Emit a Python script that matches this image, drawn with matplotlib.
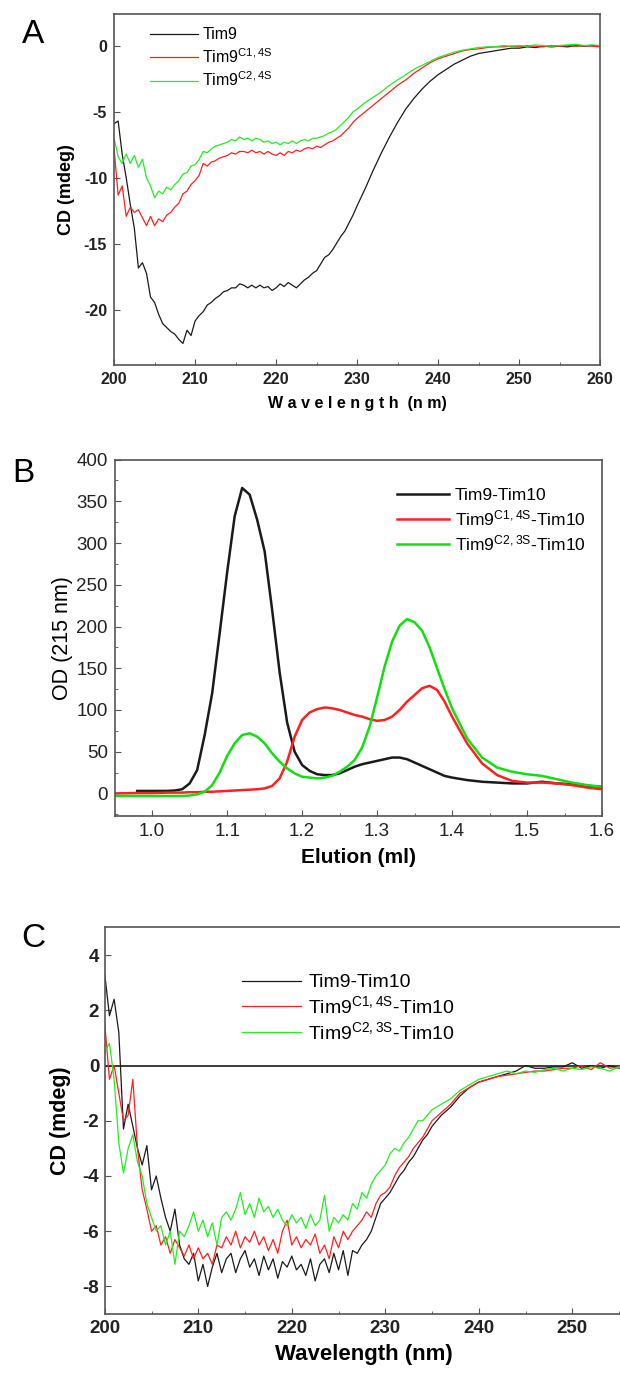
import matplotlib
matplotlib.use("Agg")
import matplotlib.pyplot as plt
import numpy as np
from matplotlib.ticker import AutoMinorLocator, MultipleLocator

plt.rcParams['font.family'] = ['Liberation Sans', 'DejaVu Sans']
plt.rcParams['mathtext.default'] = 'regular'
plt.rcParams['axes.unicode_minus'] = False

# ---------- panel A : CD spectra of Tim9 variants ----------
wl_a = np.concatenate([np.arange(200, 230.01, 0.5), np.arange(231, 260.01, 1.0)])
tim9_a = [-5.9, -5.7, -8.2, -10.0, -12.0, -13.8, -16.8, -16.4, -17.2, -19.0, -19.4, -20.3, -21.0, -21.3,
          -21.6, -21.8, -22.2, -22.5, -21.5, -21.9, -20.8, -20.4, -20.1, -19.6, -19.4, -19.1, -18.9, -18.6,
          -18.5, -18.3, -18.3, -18.0, -18.1, -18.3, -18.1, -18.3, -18.1, -18.3, -18.2, -18.5, -18.3, -18.0,
          -18.2, -17.9, -18.1, -18.3, -18.0, -17.7, -17.5, -17.2, -17.0, -16.5, -16.0, -15.8, -15.4, -14.9,
          -14.4, -14.0, -13.4, -12.8, -12.1,
          -10.8, -9.4, -8.1, -6.9, -5.8, -4.8, -4.0, -3.3, -2.7, -2.2, -1.8, -1.4, -1.1, -0.8, -0.6, -0.5,
          -0.4, -0.3, -0.2, -0.2, -0.1, -0.15, -0.05, -0.1, -0.05, -0.1, 0.0, -0.05, 0.0, -0.05]
c14_a = [-7.8, -11.3, -10.6, -12.9, -12.2, -12.6, -12.4, -13.0, -13.6, -12.9, -13.6, -13.1, -13.3, -12.8,
         -12.6, -12.2, -11.9, -11.2, -11.0, -10.5, -10.2, -9.8, -8.9, -9.1, -8.8, -8.7, -8.5, -8.4, -8.3,
         -8.1, -8.2, -8.0, -8.0, -8.1, -7.9, -8.1, -8.0, -8.2, -8.0, -8.2, -8.3, -8.1, -8.3, -8.0, -8.1,
         -7.9, -8.0, -7.8, -7.7, -7.8, -7.6, -7.7, -7.5, -7.3, -7.2, -7.0, -6.8, -6.5, -6.2, -5.8, -5.5,
         -5.0, -4.5, -4.0, -3.5, -3.0, -2.6, -2.1, -1.7, -1.3, -1.0, -0.8, -0.6, -0.4, -0.3, -0.25, -0.15,
         -0.1, -0.1, -0.05, -0.1, 0.0, -0.05, -0.1, 0.0, -0.05, 0.0, -0.05, 0.0, -0.05, -0.1]
c24_a = [-7.0, -8.4, -8.9, -8.2, -8.9, -8.3, -9.2, -8.6, -10.0, -10.6, -11.5, -11.0, -11.2, -10.7, -10.9,
         -10.5, -10.2, -9.7, -9.6, -9.1, -9.0, -8.6, -8.0, -8.1, -7.8, -7.6, -7.5, -7.4, -7.3, -7.1, -7.2,
         -6.9, -7.1, -7.0, -7.2, -7.0, -7.1, -7.3, -7.2, -7.4, -7.3, -7.5, -7.3, -7.4, -7.2, -7.4, -7.2,
         -7.1, -7.2, -7.0, -7.0, -6.9, -6.8, -6.6, -6.5, -6.3, -6.0, -5.7, -5.4, -5.0, -4.8,
         -4.3, -3.9, -3.5, -3.0, -2.6, -2.2, -1.8, -1.5, -1.2, -0.9, -0.7, -0.5, -0.35, -0.25, -0.15, -0.1,
         -0.1, 0.0, -0.05, 0.0, -0.05, 0.05, 0.0, -0.05, 0.0, 0.05, 0.1, 0.0, 0.05, 0.0]

# ---------- panel B : size exclusion elution profiles ----------
elution = np.concatenate([[0.95, 0.98, 1.00, 1.02, 1.03, 1.04],
                          np.round(np.arange(1.05, 1.4001, 0.01), 2),
                          np.round(np.arange(1.42, 1.6001, 0.02), 2)])
wt_b = [np.nan, 3, 3, 3, 3.5, 5, 12, 28, 70, 120, 192, 265, 332, 366, 358, 328, 290, 220, 145, 85, 50, 34,
        27, 23, 22, 22, 24, 28, 32, 35, 37, 39, 41, 43, 43, 41, 37, 33, 29, 25, 21, 19,
        16, 14, 13, 12, 12, 14, 12, 11, 9, 8]
c14_b = [0, 0.5, 0.5, 1, 1, 1, 1.5, 1.5, 2, 2, 2.5, 3, 3.5, 4, 4.5, 5, 6, 9, 18, 38, 68, 88, 97, 101, 103,
         102, 100, 97, 94, 92, 89, 87, 88, 92, 100, 110, 118, 126, 129, 124, 110, 92,
         60, 36, 22, 15, 13, 13, 12, 10, 7, 5]
c23_b = [-3, -3, -3, -3, -3, -3, -2.5, -1, 2, 10, 25, 45, 60, 70, 72, 68, 60, 48, 38, 30, 24, 20, 19, 18,
         19, 21, 26, 32, 40, 55, 80, 115, 152, 182, 201, 209, 205, 195, 175, 150, 125, 102,
         66, 43, 31, 26, 23, 21, 17, 13, 10, 8]

# ---------- panel C : CD spectra of Tim9-Tim10 complexes ----------
wl_c = np.concatenate([np.arange(200, 235.01, 0.5), np.arange(236, 255.01, 1.0)])
wt_c = [3.3, 1.8, 2.4, 1.2, -2.3, -1.4, -2.2, -3.0, -3.6, -2.9, -4.5, -4.0, -4.8, -5.5, -6.0, -5.2, -6.5,
        -7.0, -7.2, -6.8, -7.8, -7.2, -8.0, -7.3, -6.8, -7.5, -7.0, -6.8, -7.5, -7.0, -6.7, -7.3, -7.0,
        -7.6, -6.9, -7.4, -7.0, -7.7, -7.1, -7.3, -6.9, -7.4, -7.2, -7.6, -7.0, -7.8, -7.2, -7.0, -7.5,
        -6.8, -7.4, -6.7, -7.6, -6.7, -6.8, -6.5, -6.3, -6.0, -5.5, -5.0, -4.8, -4.6, -4.3, -4.0, -3.8,
        -3.5, -3.3, -3.0, -2.7, -2.5, -2.2,
        -1.8, -1.5, -1.1, -0.8, -0.6, -0.5, -0.4, -0.3, -0.2, 0.0, -0.1, -0.1, -0.05, -0.05, 0.1, -0.1,
        0.0, -0.1, 0.0, -0.1]
c14_c = [1.5, -0.5, 0.0, -1.0, -2.0, -1.8, -0.5, -3.0, -4.5, -5.2, -6.0, -5.8, -6.5, -6.2, -6.8, -6.3,
         -6.6, -6.9, -6.5, -7.0, -6.6, -7.0, -6.8, -7.2, -6.5, -6.6, -6.2, -6.5, -6.0, -6.6, -6.2, -6.4,
         -6.0, -6.5, -6.2, -6.7, -6.3, -6.8, -6.0, -5.6, -6.5, -6.2, -6.6, -6.3, -6.5, -6.1, -6.8, -6.5,
         -7.0, -6.2, -6.6, -6.0, -6.3, -6.0, -5.8, -5.6, -5.3, -5.5, -5.0, -4.7, -4.6, -4.4, -4.0, -3.7,
         -3.5, -3.3, -3.0, -2.8, -2.6, -2.3, -2.0,
         -1.7, -1.4, -1.0, -0.8, -0.6, -0.5, -0.4, -0.35, -0.3, -0.25, -0.2, -0.2, -0.15, -0.1, -0.1,
         0.0, -0.15, 0.1, -0.1, -0.05]
c23_c = [0.5, 0.8, -0.5, -2.8, -3.9, -3.0, -2.5, -3.5, -4.0, -5.0, -5.5, -6.0, -5.8, -6.5, -6.0, -7.2,
         -6.0, -6.2, -5.8, -5.3, -6.0, -5.6, -6.2, -5.7, -6.5, -5.5, -5.3, -5.6, -5.2, -4.6, -5.4, -5.0,
         -5.5, -4.8, -5.3, -5.1, -5.5, -5.2, -5.6, -5.8, -5.4, -5.7, -5.5, -5.9, -5.4, -5.8, -5.6, -4.7,
         -6.0, -5.5, -5.7, -5.4, -5.6, -5.0, -5.2, -4.6, -4.8, -4.3, -4.0, -3.8, -3.6, -3.2, -3.0, -3.1,
         -2.8, -2.6, -2.3, -2.0, -2.0, -1.8, -1.6,
         -1.4, -1.2, -0.9, -0.7, -0.5, -0.4, -0.3, -0.2, -0.3, -0.2, -0.25, -0.15, -0.1, -0.2, -0.1,
         -0.15, -0.05, -0.1, -0.2, -0.05]

BLACK = '#1a1a1a'
RED = '#ff2020'
GREEN = '#22ee22'
SPINE = '#555555'


def style(ax, size, weight, pad=5):
    for s in ax.spines.values():
        s.set_color(SPINE)
        s.set_linewidth(1.2)
    ax.tick_params(which='both', direction='in', top=False, right=False, color=SPINE)
    ax.tick_params(which='major', length=4, labelsize=size, pad=pad)
    ax.tick_params(which='minor', length=2.5)
    for lab in ax.get_xticklabels() + ax.get_yticklabels():
        lab.set_fontweight(weight)
        lab.set_color('#222222')


fig = plt.figure(figsize=(6.2, 13.76), dpi=100)

# A
ax1 = fig.add_axes([0.184, 0.735, 0.784, 0.255])
ax1.plot(wl_a, tim9_a, color=BLACK, lw=0.9, label='Tim9')
ax1.plot(wl_a, c14_a, color=RED, lw=0.9, label=r'Tim9$^{C1,4S}$')
ax1.plot(wl_a, c24_a, color=GREEN, lw=0.9, label=r'Tim9$^{C2,4S}$')
ax1.set_xlim(200, 260)
ax1.set_ylim(-24.1, 2.4)
ax1.xaxis.set_major_locator(MultipleLocator(10))
ax1.xaxis.set_minor_locator(AutoMinorLocator(2))
ax1.yaxis.set_major_locator(MultipleLocator(5))
style(ax1, 11.5, 'bold')
ax1.set_xlabel('W a v e l e n g t h  (n m)', fontsize=11.5, fontweight='bold', labelpad=7)
ax1.set_ylabel('CD (mdeg)', fontsize=13, fontweight='bold', labelpad=6)
ax1.legend(loc='upper left', bbox_to_anchor=(0.06, 0.98), frameon=False, fontsize=11.5,
           handlelength=3.0, handletextpad=0.3, labelspacing=0.3, borderaxespad=0)

# B
ax2 = fig.add_axes([0.185, 0.407, 0.786, 0.259])
ax2.plot(elution, wt_b, color=BLACK, lw=1.8, label='Tim9-Tim10')
ax2.plot(elution, c14_b, color=RED, lw=1.8, label=r'Tim9$^{C1,4S}$-Tim10')
ax2.plot(elution, c23_b, color='#10e010', lw=1.8, label=r'Tim9$^{C2,3S}$-Tim10')
ax2.set_xlim(0.95, 1.6)
ax2.set_ylim(-27, 400)
ax2.xaxis.set_major_locator(MultipleLocator(0.1))
ax2.xaxis.set_minor_locator(AutoMinorLocator(2))
ax2.yaxis.set_major_locator(MultipleLocator(50))
ax2.yaxis.set_minor_locator(AutoMinorLocator(2))
style(ax2, 13.5, 'normal')
ax2.set_xlabel('Elution (ml)', fontsize=15, fontweight='bold', labelpad=6)
ax2.set_ylabel('OD (215 nm)', fontsize=15.5, labelpad=2)
ax2.legend(loc='upper right', bbox_to_anchor=(0.98, 0.94), frameon=False, fontsize=12.5,
           handlelength=3.0, handletextpad=0.3, labelspacing=0.3, borderaxespad=0)

# C
ax3 = fig.add_axes([0.169, 0.045, 0.837, 0.281])
ax3.axhline(0, color=BLACK, lw=1.2)
ax3.plot(wl_c, wt_c, color=BLACK, lw=0.9, label='Tim9-Tim10')
ax3.plot(wl_c, c14_c, color=RED, lw=0.9, label=r'Tim9$^{C1,4S}$-Tim10')
ax3.plot(wl_c, c23_c, color=GREEN, lw=0.9, label=r'Tim9$^{C2,3S}$-Tim10')
ax3.set_xlim(200, 255.5)
ax3.set_ylim(-9, 5)
ax3.xaxis.set_major_locator(MultipleLocator(10))
ax3.xaxis.set_minor_locator(AutoMinorLocator(2))
ax3.yaxis.set_major_locator(MultipleLocator(2))
style(ax3, 13.5, 'bold', pad=4)
ax3.set_xlabel('Wavelength (nm)', fontsize=16, fontweight='bold', labelpad=5)
ax3.set_ylabel('CD (mdeg)', fontsize=15.5, fontweight='bold', labelpad=8)
ax3.legend(loc='upper left', bbox_to_anchor=(0.25, 0.9), frameon=False, fontsize=14,
           handlelength=3.0, handletextpad=0.4, labelspacing=0.2, borderaxespad=0)

# panel letters
fig.text(0.035, 0.975, 'A', fontsize=24, va='center')
fig.text(0.02, 0.656, 'B', fontsize=24, va='center')
fig.text(0.035, 0.318, 'C', fontsize=24, va='center')

fig.savefig('out.png', dpi=100)
